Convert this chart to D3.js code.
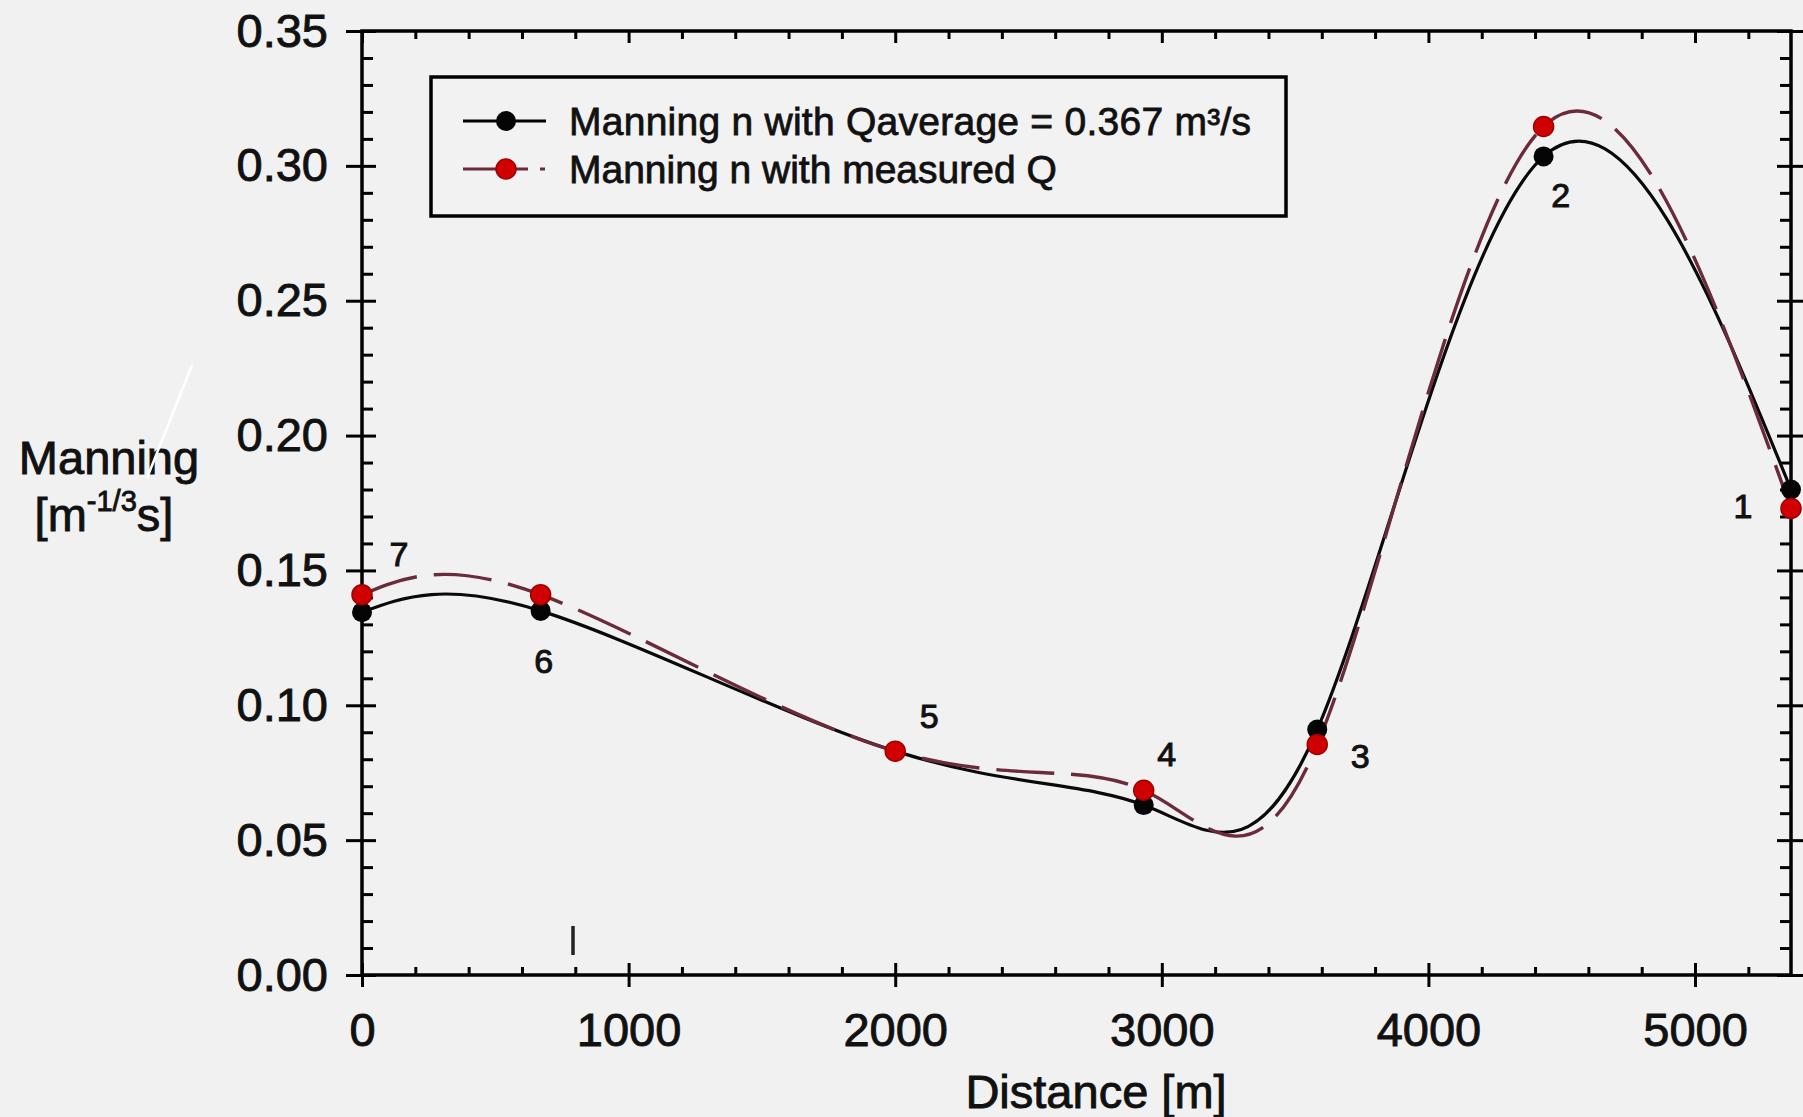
<!DOCTYPE html>
<html>
<head>
<meta charset="utf-8">
<script src="https://cdn.jsdelivr.net/npm/d3@7"></script>
<style>
  html, body { margin: 0; padding: 0; background: #f1f1f1; }
  svg { display: block; }
  text { font-family: "Liberation Sans", Arial, sans-serif; fill: #111; }
</style>
</head>
<body>
<svg id="chart" width="1803" height="1117"></svg>
<script>
// Cross-section stations along the reach (distance in metres)
const distance = [0, 670, 2000, 2932, 3583, 4432, 5360];
// Manning n computed with the average discharge
const nAverageQ = [0.1345, 0.1350, 0.0830, 0.0630, 0.0910, 0.3035, 0.1800];
// Manning n computed with the measured discharge
const nMeasuredQ = [0.1410, 0.1410, 0.0830, 0.0685, 0.0855, 0.3146, 0.1730];
// Station numbers
const stationLabels = ["7", "6", "5", "4", "3", "2", "1"];
// Axis ticks
const xTickValues = [0, 1000, 2000, 3000, 4000, 5000];
const yTickValues = [0, 0.05, 0.10, 0.15, 0.20, 0.25, 0.30, 0.35];
const seriesNames = ["Manning n with Qaverage = 0.367 m\u00B3/s", "Manning n with measured Q"];

// Where each station number sits relative to its marker (px)
const labelOffsets = [[37, -58], [3, 50], [34, -35], [23, -51], [43, 27], [17, 39], [-48, 17]];

const svg = d3.select("#chart");
const W = 1803, H = 1117;
const plotL = 362, plotR = 1791, plotT = 31, plotB = 975;
const ink = "#111";

svg.append("rect").attr("width", W).attr("height", H).attr("fill", "#f1f1f1");

const x = d3.scaleLinear().domain([0, 5360]).range([plotL, plotR]);
const y = d3.scaleLinear().domain([0, 0.35]).range([plotB, plotT]);

const xMinor = d3.range(0, 5360, 200).filter(v => v % 1000 !== 0);
const yMinor = d3.range(1, 35).map(v => v / 100).filter(v => Math.round(v * 100) % 5 !== 0);

const tickStyle = g => {
  g.select(".domain").remove();
  g.selectAll("line").attr("stroke", "#000").attr("stroke-width", 3);
};
const labelStyle = g => g.selectAll("text")
  .attr("font-size", 47).attr("fill", ink).attr("stroke", ink).attr("stroke-width", 0.9);

// Bottom axis: labels + outward major ticks
svg.append("g").attr("transform", `translate(0,${plotB})`)
  .call(d3.axisBottom(x).tickValues(xTickValues).tickSize(12).tickPadding(26).tickFormat(d3.format("d")))
  .call(tickStyle).call(labelStyle);
// Bottom axis: inward major and minor ticks
svg.append("g").attr("transform", `translate(0,${plotB})`)
  .call(d3.axisTop(x).tickValues(xTickValues).tickSize(12).tickFormat(""))
  .call(tickStyle);
svg.append("g").attr("transform", `translate(0,${plotB})`)
  .call(d3.axisTop(x).tickValues(xMinor).tickSize(8).tickFormat(""))
  .call(tickStyle);
// Top axis ticks (inward)
svg.append("g").attr("transform", `translate(0,${plotT})`)
  .call(d3.axisBottom(x).tickValues(xTickValues).tickSize(12).tickFormat(""))
  .call(tickStyle);
svg.append("g").attr("transform", `translate(0,${plotT})`)
  .call(d3.axisBottom(x).tickValues(xMinor).tickSize(8).tickFormat(""))
  .call(tickStyle);

// Left axis: labels + outward major ticks
svg.append("g").attr("transform", `translate(${plotL},0)`)
  .call(d3.axisLeft(y).tickValues(yTickValues).tickSize(16).tickPadding(18).tickFormat(d3.format(".2f")))
  .call(tickStyle).call(labelStyle);
svg.append("g").attr("transform", `translate(${plotL},0)`)
  .call(d3.axisRight(y).tickValues(yTickValues).tickSize(14).tickFormat(""))
  .call(tickStyle);
svg.append("g").attr("transform", `translate(${plotL},0)`)
  .call(d3.axisRight(y).tickValues(yMinor).tickSize(11).tickFormat(""))
  .call(tickStyle);
// Right axis ticks
svg.append("g").attr("transform", `translate(${plotR},0)`)
  .call(d3.axisLeft(y).tickValues(yTickValues).tickSize(14).tickFormat(""))
  .call(tickStyle);
svg.append("g").attr("transform", `translate(${plotR},0)`)
  .call(d3.axisRight(y).tickValues(yTickValues).tickSize(14).tickFormat(""))
  .call(tickStyle);
svg.append("g").attr("transform", `translate(${plotR},0)`)
  .call(d3.axisLeft(y).tickValues(yMinor).tickSize(11).tickFormat(""))
  .call(tickStyle);

// Plot frame
svg.append("rect")
  .attr("x", plotL).attr("y", plotT).attr("width", plotR - plotL).attr("height", plotB - plotT)
  .attr("fill", "none").attr("stroke", "#000").attr("stroke-width", 3.5);

// Axis titles
svg.append("text").attr("x", 1096).attr("y", 1108).attr("text-anchor", "middle")
  .attr("font-size", 47).attr("stroke", ink).attr("stroke-width", 0.9).text("Distance [m]");
svg.append("text").attr("x", 109).attr("y", 474).attr("text-anchor", "middle")
  .attr("font-size", 47).attr("stroke", ink).attr("stroke-width", 0.9).text("Manning");
const unit = svg.append("text").attr("x", 104).attr("y", 531).attr("text-anchor", "middle")
  .attr("font-size", 47).attr("stroke", ink).attr("stroke-width", 0.9);
unit.append("tspan").text("[m");
unit.append("tspan").attr("font-size", 29).attr("dy", -20).text("-1/3");
unit.append("tspan").attr("dy", 20).text("s]");

// Series lines (smoothed through the stations)
const line = d3.line().curve(d3.curveNatural).x(d => x(d[0])).y(d => y(d[1]));
const avgPts = distance.map((d, i) => [d, nAverageQ[i]]);
const measPts = distance.map((d, i) => [d, nMeasuredQ[i]]);

svg.append("path").datum(avgPts).attr("d", line)
  .attr("fill", "none").attr("stroke", "#0a0a0a").attr("stroke-width", 3.2);
svg.append("path").datum(measPts).attr("d", line)
  .attr("fill", "none").attr("stroke", "#6b2b3a").attr("stroke-width", 3.4)
  .attr("stroke-dasharray", "58,17");

// Markers
svg.append("g").selectAll("circle").data(avgPts).join("circle")
  .attr("cx", d => x(d[0])).attr("cy", d => y(d[1])).attr("r", 10).attr("fill", "#050505");
svg.append("g").selectAll("circle").data(measPts).join("circle")
  .attr("cx", d => x(d[0])).attr("cy", d => y(d[1])).attr("r", 10).attr("fill", "#d10000")
  .attr("stroke", "#a00000").attr("stroke-width", 1.5);

// Station numbers
svg.append("g").selectAll("text").data(stationLabels).join("text")
  .attr("x", (d, i) => x(distance[i]) + labelOffsets[i][0])
  .attr("y", (d, i) => y(nAverageQ[i]) + labelOffsets[i][1])
  .attr("text-anchor", "middle").attr("dy", "0.35em")
  .attr("font-size", 34).attr("stroke", ink).attr("stroke-width", 1)
  .text(d => d);

// Legend
const lg = svg.append("g");
lg.append("rect").attr("x", 431).attr("y", 77).attr("width", 855).attr("height", 139)
  .attr("fill", "#f2f2f2").attr("stroke", "#000").attr("stroke-width", 3.5);
lg.append("line").attr("x1", 463).attr("x2", 546).attr("y1", 121).attr("y2", 121)
  .attr("stroke", "#000").attr("stroke-width", 3.2);
lg.append("circle").attr("cx", 506).attr("cy", 121).attr("r", 10).attr("fill", "#050505");
lg.append("line").attr("x1", 463).attr("x2", 546).attr("y1", 169).attr("y2", 169)
  .attr("stroke", "#6b2b3a").attr("stroke-width", 3.2).attr("stroke-dasharray", "65,12,5,20");
lg.append("circle").attr("cx", 506).attr("cy", 169).attr("r", 10).attr("fill", "#d10000")
  .attr("stroke", "#a00000").attr("stroke-width", 1.5);
lg.selectAll("text.series").data(seriesNames).join("text").attr("class", "series")
  .attr("x", 569).attr("y", (d, i) => 135 + i * 48)
  .attr("font-size", 39).attr("stroke", ink).attr("stroke-width", 0.8)
  .attr("textLength", (d, i) => i === 0 ? 682 : null)
  .text(d => d);

// Stray marks on the sheet
svg.append("line").attr("x1", 192).attr("y1", 365).attr("x2", 147).attr("y2", 478)
  .attr("stroke", "#ffffff").attr("stroke-width", 2.5);
svg.append("line").attr("x1", 573).attr("y1", 926).attr("x2", 573).attr("y2", 955)
  .attr("stroke", "#222").attr("stroke-width", 3.5);
</script>
</body>
</html>
